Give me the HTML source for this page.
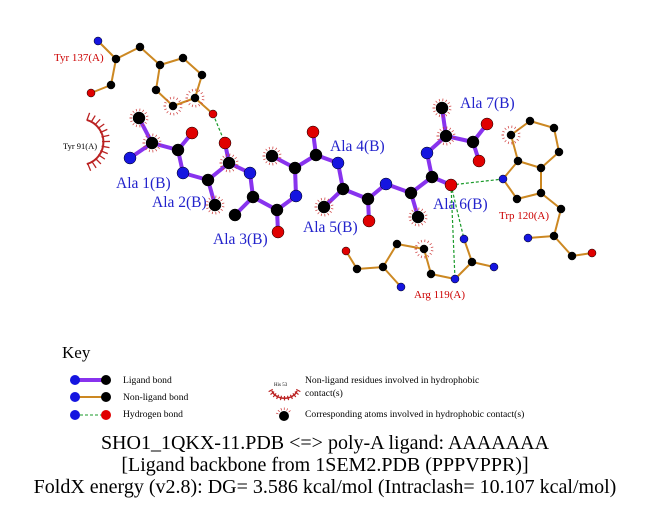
<!DOCTYPE html>
<html><head><meta charset="utf-8"><style>
body{margin:0;background:#fff;}
svg{display:block;font-family:"Liberation Serif",serif;}
</style></head><body>
<svg id="s" width="651" height="511" viewBox="0 0 651 511" xmlns="http://www.w3.org/2000/svg">
<text x="54" y="61" font-size="11" fill="#c00">Tyr 137(A)</text>
<text x="63" y="149" font-size="8.5" fill="#000">Tyr 91(A)</text>
<path d="M86.8,119.9 A23,23 0 0 1 86.8,164.1" fill="none" stroke="#b22" stroke-width="2"/>
<g font-size="15.5" fill="#22c">
<text x="116" y="188">Ala 1(B)</text>
<text x="152" y="207">Ala 2(B)</text>
<text x="213" y="244">Ala 3(B)</text>
<text x="330" y="151">Ala 4(B)</text>
<text x="303" y="232">Ala 5(B)</text>
<text x="433" y="209">Ala 6(B)</text>
<text x="460" y="108">Ala 7(B)</text>
</g>
<text x="499" y="219" font-size="11" fill="#c00">Trp 120(A)</text>
<text x="414" y="298" font-size="11" fill="#c00">Arg 119(A)</text>
<g id="g"></g>
<text x="62" y="358" font-size="17">Key</text>
<g font-size="9.6">
<text x="123" y="383">Ligand bond</text>
<text x="123" y="400">Non-ligand bond</text>
<text x="123" y="417">Hydrogen bond</text>
<text x="305" y="383">Non-ligand residues involved in hydrophobic</text>
<text x="305" y="396">contact(s)</text>
<text x="305" y="417">Corresponding atoms involved in hydrophobic contact(s)</text>
<text x="274" y="386" font-size="5">His 53</text>
</g>
<path d="M272,391 A13,10 0 0 0 297,391" fill="none" stroke="#b22" stroke-width="1.5"/>
<g font-size="20" text-anchor="middle">
<text x="325" y="449">SHO1_1QKX-11.PDB &lt;=&gt; poly-A ligand: AAAAAAA</text>
<text x="325" y="471">[Ligand backbone from 1SEM2.PDB (PPPVPPR)]</text>
<text x="325" y="493">FoldX energy (v2.8): DG= 3.586 kcal/mol (Intraclash= 10.107 kcal/mol)</text>
</g>
</svg>
<script>
var g=document.getElementById('g'),NS='http://www.w3.org/2000/svg';
function el(t,a){var e=document.createElementNS(NS,t);for(var k in a)e.setAttribute(k,a[k]);g.appendChild(e);return e;}
var C={b:'#1515e0',k:'#000',r:'#e00000'};
var P={tN:[98,41,'b'],tCA:[116,59,'k'],tC:[111,85,'k'],tO:[91,93,'r'],tCB:[140,47,'k'],tCG:[160,65,'k'],tD1:[183,58,'k'],tE1:[202,75,'k'],tZ:[195,98,'k'],tE2:[173,106,'k'],tD2:[156,90,'k'],tOH:[213,114,'r'],
wNE:[503,179,'b'],wCE2:[518,161,'k'],wCD2:[541,168,'k'],wCG:[541,193,'k'],wCD1:[517,199,'k'],wZ2:[511,135,'k'],wH2:[530,121,'k'],wZ3:[554,128,'k'],wE3:[559,152,'k'],wCB:[561,209,'k'],wCA:[554,236,'k'],wN:[528,238,'b'],wC:[572,256,'k'],wO:[592,253,'r'],
rNH1:[464,239,'b'],rCZ:[472,262,'k'],rNH2:[494,267,'b'],rNE:[455,279,'b'],rCD:[431,274,'k'],rCG:[424,249,'k'],rCB:[397,244,'k'],rCA:[383,267,'k'],rN:[401,287,'b'],rC:[357,269,'k'],rO:[346,251,'r']};
var PB=[['tN','tCA'],['tCA','tC'],['tC','tO'],['tCA','tCB'],['tCB','tCG'],['tCG','tD1'],['tD1','tE1'],['tE1','tZ'],['tZ','tE2'],['tE2','tD2'],['tD2','tCG'],['tZ','tOH'],
['wNE','wCE2'],['wCE2','wCD2'],['wCD2','wCG'],['wCG','wCD1'],['wCD1','wNE'],['wCE2','wZ2'],['wZ2','wH2'],['wH2','wZ3'],['wZ3','wE3'],['wE3','wCD2'],['wCG','wCB'],['wCB','wCA'],['wCA','wN'],['wCA','wC'],['wC','wO'],
['rNH1','rCZ'],['rCZ','rNH2'],['rCZ','rNE'],['rNE','rCD'],['rCD','rCG'],['rCG','rCB'],['rCB','rCA'],['rCA','rN'],['rCA','rC'],['rC','rO']];
var L={a1CB:[139,118,'k'],a1CA:[152,143,'k'],a1N:[130,158,'b'],a1C:[178,150,'k'],a1O:[192,133,'r'],a2N:[183,173,'b'],a2CA:[208,180,'k'],a2CB:[215,205,'k'],a2C:[229,163,'k'],a2O:[225,143,'r'],
a3N:[250,173,'b'],a3CA:[253,197,'k'],a3CB:[235,215,'k'],a3C:[277,210,'k'],a3O:[278,232,'r'],a4N:[296,196,'b'],a4CA:[295,168,'k'],a4CB:[272,156,'k'],a4C:[316,155,'k'],a4O:[313,132,'r'],
a5N:[338,163,'b'],a5CA:[343,189,'k'],a5CB:[324,207,'k'],a5C:[368,199,'k'],a5O:[369,221,'r'],a6N:[386,184,'b'],a6CA:[411,193,'k'],a6CB:[418,217,'k'],a6C:[432,177,'k'],a6O:[451,185,'r'],
a7N:[427,153,'b'],a7CA:[446,136,'k'],a7CB:[442,108,'k'],a7C:[473,142,'k'],a7O1:[487,124,'r'],a7O2:[479,161,'r']};
var LB=[['a1CB','a1CA'],['a1CA','a1N'],['a1CA','a1C'],['a1C','a1O'],['a1C','a2N'],['a2N','a2CA'],['a2CA','a2CB'],['a2CA','a2C'],['a2C','a2O'],['a2C','a3N'],['a3N','a3CA'],['a3CA','a3CB'],['a3CA','a3C'],['a3C','a3O'],['a3C','a4N'],['a4N','a4CA'],['a4CA','a4CB'],['a4CA','a4C'],['a4C','a4O'],['a4C','a5N'],['a5N','a5CA'],['a5CA','a5CB'],['a5CA','a5C'],['a5C','a5O'],['a5C','a6N'],['a6N','a6CA'],['a6CA','a6CB'],['a6CA','a6C'],['a6C','a6O'],['a6C','a7N'],['a7N','a7CA'],['a7CA','a7CB'],['a7CA','a7C'],['a7C','a7O1'],['a7C','a7O2']];
function hash(x,y,r,a0,a1){for(var a=a0;a<=a1;a+=24){var t=a*Math.PI/180;el('line',{x1:x+(r+1)*Math.cos(t),y1:y+(r+1)*Math.sin(t),x2:x+(r+3.5)*Math.cos(t),y2:y+(r+3.5)*Math.sin(t),stroke:'#c33','stroke-width':0.7});}}
for(var a=-70;a<=70;a+=11.5){var t=a*Math.PI/180;el('line',{x1:79+23*Math.cos(t),y1:142+23*Math.sin(t),x2:79+31*Math.cos(t),y2:142+31*Math.sin(t),stroke:'#b22','stroke-width':1.3});}
for(var a=20;a<=160;a+=14){var t=a*Math.PI/180;el('line',{x1:284.5+12.5*Math.cos(t),y1:386+10*Math.sin(t),x2:284.5+12.5*Math.cos(t)*1.35,y2:386+10*Math.sin(t)*1.35+1,stroke:'#b22','stroke-width':1.2});}
function hb(a,b){el('line',{x1:a[0],y1:a[1],x2:b[0],y2:b[1],stroke:'#1a9a2a','stroke-width':1.2,'stroke-dasharray':'3,2'});}
PB.forEach(function(b){var a=P[b[0]],c=P[b[1]];el('line',{x1:a[0],y1:a[1],x2:c[0],y2:c[1],stroke:'#cc8822','stroke-width':2});});
LB.forEach(function(b){var a=L[b[0]],c=L[b[1]];el('line',{x1:a[0],y1:a[1],x2:c[0],y2:c[1],stroke:'#8833ee','stroke-width':4});});
hb(P.tOH,L.a2O);hb(L.a6O,P.wNE);hb(L.a6O,P.rNH1);hb(L.a6O,P.rNE);
[P.tE2,P.tZ,L.a1CB,L.a1CA,L.a2CB,L.a2C,L.a4CB,L.a5CB,L.a6CB,L.a7CA,L.a7CB,P.wZ2,P.rCG].forEach(function(q){hash(q[0],q[1],6,-180,180);});
for(var k in P){var p=P[k];el('circle',{cx:p[0],cy:p[1],r:4,fill:C[p[2]],stroke:'#000','stroke-width':0.5});}
for(var k in L){var p=L[k];el('circle',{cx:p[0],cy:p[1],r:6,fill:C[p[2]],stroke:'#000','stroke-width':0.5});}
el('line',{x1:75,y1:380,x2:106,y2:380,stroke:'#8833ee','stroke-width':4});
el('circle',{cx:75,cy:380,r:5,fill:C.b});el('circle',{cx:106,cy:380,r:5,fill:C.k});
el('line',{x1:75,y1:397,x2:106,y2:397,stroke:'#cc8822','stroke-width':2});
el('circle',{cx:75,cy:397,r:5,fill:C.b});el('circle',{cx:106,cy:397,r:5,fill:C.k});
el('line',{x1:75,y1:415,x2:106,y2:415,stroke:'#1a9a2a','stroke-width':1,'stroke-dasharray':'3,2'});
el('circle',{cx:75,cy:415,r:5,fill:C.b});el('circle',{cx:106,cy:415,r:5,fill:C.r});
el('circle',{cx:284,cy:416,r:5,fill:C.k});hash(284,416,5,-160,-20);
</script>
</body></html>
